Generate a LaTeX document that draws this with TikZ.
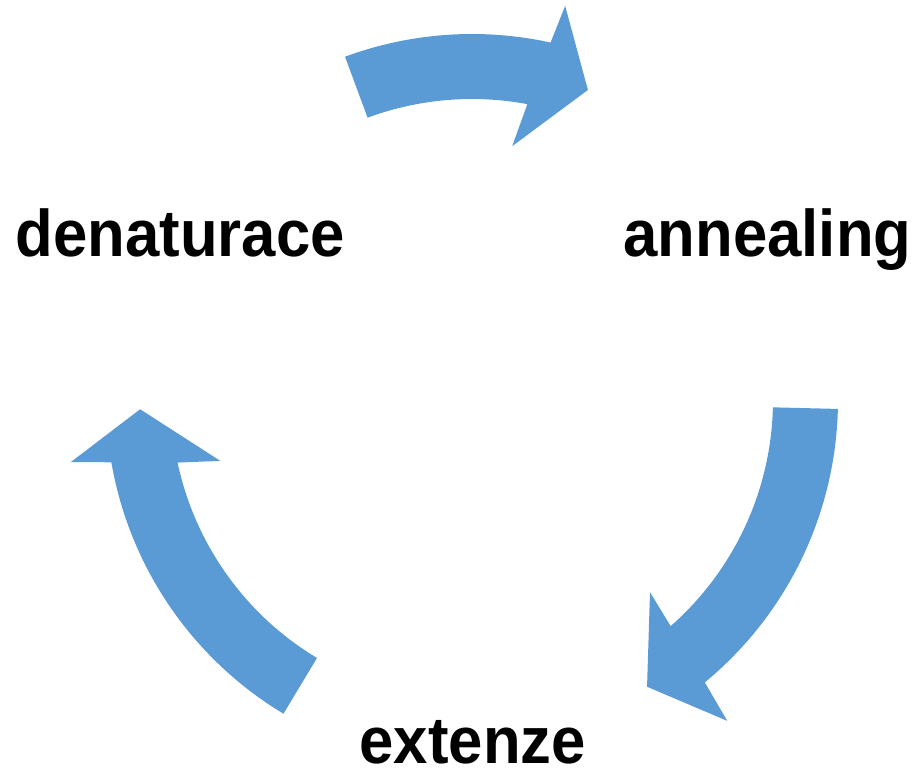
\documentclass[tikz,border=0pt]{standalone}
\usepackage{fontspec}
\setmainfont{Liberation Sans}[FakeStretch=0.934]
\definecolor{arrowblue}{HTML}{5B9BD5}
\begin{document}
\begin{tikzpicture}[x=1pt,y=1pt,
  cyclearrow/.style={fill=arrowblue,draw=none},
  steplabel/.style={inner sep=0pt,anchor=base west,font=\fontsize{66}{70}\selectfont\bfseries}]
\useasboundingbox (0,0) rectangle (914,770);
\coordinate (c) at (472,370);
\begin{scope}[shift={(c)}]
  % top arrow
  \path[cyclearrow] (110.3:366) arc[start angle=110.3,end angle=77.6,radius=366]
     -- (76.7:405) -- (69.5:331) -- (81.0:257) -- (79.4:301)
     arc[start angle=79.4,end angle=110.3,radius=301] -- cycle;
  % right arrow
  \path[cyclearrow] (-1.4:366) arc[start angle=-1.4,end angle=-50.5,radius=366]
     -- (-51.5:410) -- (-58.6:336) -- (-47.2:262) -- (-48.7:301)
     arc[start angle=-48.7,end angle=-1.4,radius=301] -- cycle;
  % left arrow
  \path[cyclearrow] (239:366) arc[start angle=239,end angle=189.8,radius=366]
     -- (188.8:406) -- (181.6:332) -- (193.6:259) -- (192:301)
     arc[start angle=192,end angle=239,radius=301] -- cycle;
\end{scope}
\node[steplabel] (den) at (15.5,513) {denaturace};
\node[steplabel] (ann) at (623.5,513) {annealing};
\node[steplabel] (ext) at (359.5,6) {extenze};
\end{tikzpicture}
\end{document}
